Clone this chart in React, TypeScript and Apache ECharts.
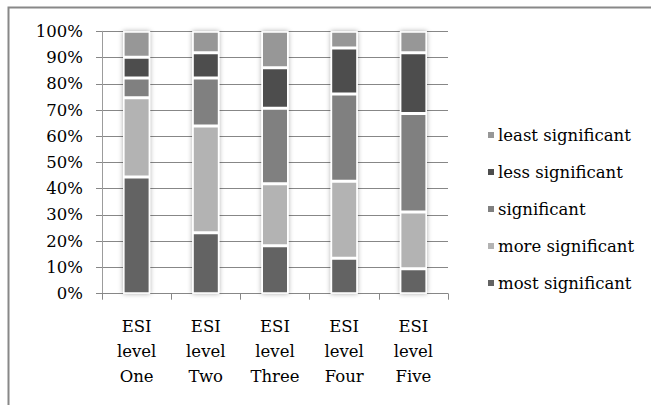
import React, { useEffect, useRef } from "react";
import * as echarts from "echarts";

const categories = ["ESI\nlevel\nOne", "ESI\nlevel\nTwo", "ESI\nlevel\nThree", "ESI\nlevel\nFour", "ESI\nlevel\nFive"];

const mostSignificant = [44.5, 23.2, 18.3, 13.5, 9.5];
const moreSignificant = [30.2, 40.7, 23.6, 29.4, 21.6];
const significant = [7.5, 18.3, 28.8, 33.2, 37.6];
const lessSignificant = [7.9, 9.6, 15.4, 17.5, 23.1];
const leastSignificant = [9.9, 8.2, 13.9, 6.4, 8.2];

const yTicks = [0, 10, 20, 30, 40, 50, 60, 70, 80, 90, 100];

const seriesDefs = [
  { name: "most significant", data: mostSignificant, color: "#636363" },
  { name: "more significant", data: moreSignificant, color: "#b3b3b3" },
  { name: "significant", data: significant, color: "#808080" },
  { name: "less significant", data: lessSignificant, color: "#4d4d4d" },
  { name: "least significant", data: leastSignificant, color: "#979797" },
];

const FONT = "DejaVu Serif";

export default function App() {
  const ref = useRef<HTMLDivElement>(null);

  useEffect(() => {
    if (!ref.current) return;
    const chart = echarts.init(ref.current, null, { renderer: "svg" });

    // column totals, used for the soft shadow column behind each stack
    const totals = categories.map((_, i) =>
      seriesDefs.reduce((s, d) => s + d.data[i], 0)
    );

    const gridColor = "#878787";

    chart.setOption({
      animation: false,
      backgroundColor: "#ffffff",
      textStyle: { fontFamily: FONT },
      grid: { left: 102, right: 203, top: 31.3, bottom: 111.3, containLabel: false },
      legend: {
        orient: "vertical",
        left: 481,
        top: 120,
        icon: "rect",
        itemWidth: 8,
        itemHeight: 8,
        itemGap: 17,
        selectedMode: false,
        data: [
          "least significant",
          "less significant",
          "significant",
          "more significant",
          "most significant",
        ],
        textStyle: {
          fontFamily: FONT,
          fontSize: 16.5,
          color: "#000",
          lineHeight: 20,
          padding: [0, 0, 0, -2],
        },
      },
      xAxis: {
        type: "category",
        data: categories,
        axisLine: { show: true, lineStyle: { color: gridColor, width: 1 } },
        axisTick: { show: true, length: 6, alignWithLabel: false, lineStyle: { color: gridColor } },
        axisLabel: {
          interval: 0,
          margin: 20,
          fontFamily: FONT,
          fontSize: 16.5,
          lineHeight: 25,
          color: "#000",
        },
      },
      yAxis: {
        type: "value",
        min: yTicks[0],
        max: yTicks[yTicks.length - 1],
        interval: yTicks[1] - yTicks[0],
        axisLine: { show: true, lineStyle: { color: "#9c9c9c", width: 1 } },
        axisTick: { show: true, length: 6, lineStyle: { color: gridColor } },
        splitLine: { show: true, lineStyle: { color: gridColor, width: 1 } },
        axisLabel: {
          formatter: "{value}%",
          margin: 19,
          fontFamily: FONT,
          fontSize: 16.5,
          color: "#000",
        },
      },
      graphic: [
        {
          type: "polyline",
          silent: true,
          shape: { points: [[8.5, 405], [8.5, 7.5], [651, 7.5]] },
          style: { stroke: "#888888", lineWidth: 2, fill: null },
        },
      ],
      series: [
        {
          name: "shadow",
          type: "bar",
          data: totals,
          barWidth: 27,
          silent: true,
          itemStyle: {
            color: "#ffffff",
            shadowBlur: 5,
            shadowColor: "rgba(0,0,0,0.35)",
          },
          z: 1,
        },
        ...seriesDefs.map((d) => ({
          name: d.name,
          type: "bar",
          stack: "total",
          data: d.data,
          barWidth: 27,
          barGap: "-100%",
          itemStyle: { color: d.color, borderColor: "#ffffff", borderWidth: 1.5 },
          z: 2,
        })),
      ],
    });

    return () => chart.dispose();
  }, []);

  return (
    <div
      ref={ref}
      style={{ position: "absolute", left: 0, top: 0, width: 651, height: 405 }}
    />
  );
}
